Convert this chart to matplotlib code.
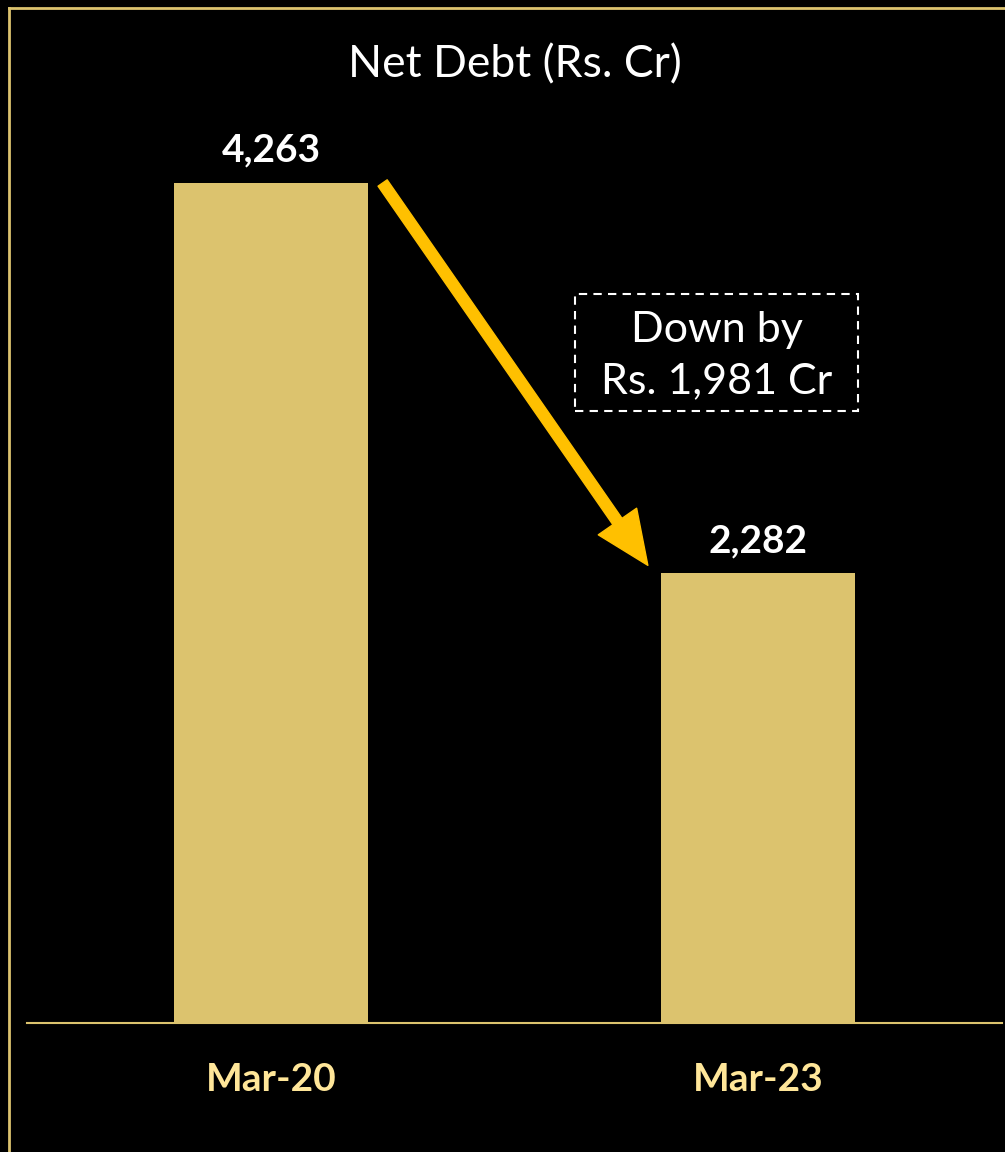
import matplotlib
matplotlib.use('Agg')
import matplotlib.pyplot as plt
from matplotlib.lines import Line2D
from matplotlib.patches import Rectangle

#data
periods = ['Mar-20', 'Mar-23']
net_debt = [4263, 2282]
value_labels = ['4,263', '2,282']
title = 'Net Debt (Rs. Cr)'
note = 'Down by\nRs. 1,981 Cr'

BAR = '#DCC36E'
ARROW = '#FFC000'
TICK = '#FFE699'

plt.rcParams['font.family'] = ['Lato', 'DejaVu Sans']

W, H = 1005, 1152
fig = plt.figure(figsize=(W/100, H/100), dpi=100, facecolor='black')

#frame lines (left + top only)
fig.add_artist(Line2D([8.5/W, 8.5/W], [0, 1-8/H], color=BAR, lw=2))
fig.add_artist(Line2D([8.5/W, 1], [1-8/H, 1-8/H], color=BAR, lw=2))

#axes: baseline at y=1023px, x from 27 to 1002px
ax = fig.add_axes([27/W, (H-1023)/H, 975/W, 1000/H])
ax.set_facecolor('black')
x = list(range(len(periods)))
w = 194/487
ax.bar(x, net_debt, width=w, color=BAR, zorder=2)
ax.set_xlim(-244/487, 731/487)
ax.set_ylim(0, 1000*net_debt[0]/840)

for s in ['top', 'right', 'left']:
    ax.spines[s].set_visible(False)
ax.spines['bottom'].set_color(BAR)
ax.spines['bottom'].set_linewidth(1.5)
ax.set_yticks([])
ax.set_xticks(x)
ax.set_xticklabels(periods, fontsize=28, fontweight='bold', color=TICK)
ax.tick_params(axis='x', length=0, pad=28)

for xi, v, lab in zip(x, net_debt, value_labels):
    ax.annotate(lab, (xi, v), xytext=(0, 11), textcoords='offset points',
                ha='center', va='bottom', fontsize=28, fontweight='bold', color='white')

ax.set_title(title, color='white', fontsize=32, pad=0, y=0.958, va='center')

#arrow
y_per_px = ax.get_ylim()[1]/1000
ax.annotate('', xy=(1 - w/2 - 0.027, net_debt[1] + 8*y_per_px),
            xytext=(w/2 + 0.03, net_debt[0]),
            arrowprops=dict(arrowstyle='simple,head_length=2.4,tail_width=0.5,head_width=2.1',
                            color=ARROW, shrinkA=0, shrinkB=0, mutation_scale=16))

#dashed note box
bx0, bx1 = (575-271)/487, (858-271)/487
by0, by1 = (1023-411)*y_per_px, (1023-294)*y_per_px
ax.add_patch(Rectangle((bx0, by0), bx1-bx0, by1-by0, fill=False, ec='white',
                       lw=1.5, ls=(0, (4, 3)), zorder=3))
ax.text((bx0+bx1)/2, (by0+by1)/2 - 3*y_per_px, note, ha='center', va='center', color='white',
        fontsize=31, linespacing=1.45)

fig.savefig('out.png', dpi=100, facecolor='black')
